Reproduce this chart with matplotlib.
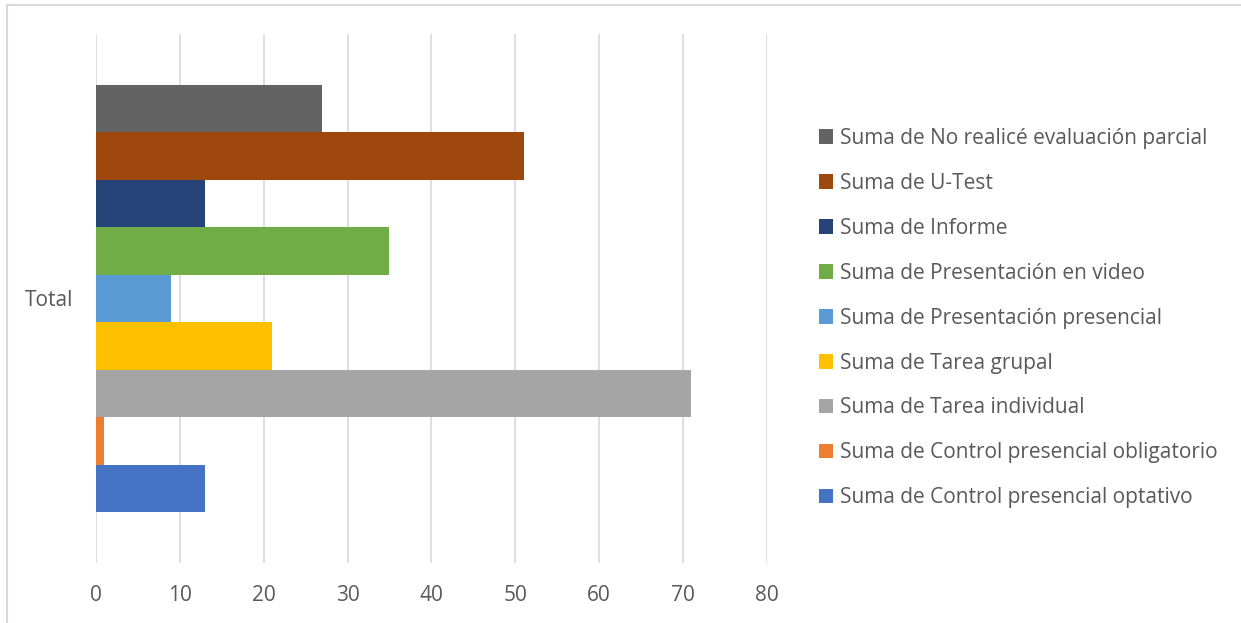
import matplotlib.pyplot as plt
import numpy as np
from matplotlib.lines import Line2D

# series, drawn bottom to top
series = ["Suma de Control presencial optativo",
          "Suma de Control presencial obligatorio",
          "Suma de Tarea individual",
          "Suma de Tarea grupal",
          "Suma de Presentación presencial",
          "Suma de Presentación en video",
          "Suma de Informe",
          "Suma de U-Test",
          "Suma de No realicé evaluación parcial"]
values = [13, 1, 71, 21, 9, 35, 13, 51, 27]
colors = ["#4472c4", "#ed7d31", "#a5a5a5", "#ffc000", "#5b9bd5",
          "#70ad47", "#264478", "#9e480e", "#636363"]
category = "Total"
xticks = [0, 10, 20, 30, 40, 50, 60, 70, 80]

plt.rcParams['font.family'] = ['Open Sans', 'DejaVu Sans']

fig = plt.figure(figsize=(12.41, 6.23), dpi=100)
W, H = 1241, 623
ax = fig.add_axes([96 / W, 1 - 563 / H, (766.7 - 96) / W, (563 - 34) / H])

n = len(values)
h = 1.0
pos = (np.arange(n) - (n - 1) / 2) * h
handles = []
for p, v, c, lab in zip(pos, values, colors, series):
    b = ax.barh(p, v, height=h, color=c, label=lab, zorder=3)
    handles.append(b)

span = (563 - 34) / 47.5
ax.set_ylim(-span / 2, span / 2)
ax.set_xlim(0, 80)
ax.set_xticks(xticks)
ax.set_yticks([0])
ax.set_yticklabels([category])
ax.grid(axis='x', color='#d9d9d9', linewidth=1.2, zorder=0)
for s in ax.spines.values():
    s.set_visible(False)
ax.tick_params(axis='both', length=0, labelsize=15, labelcolor='#595959')
ax.tick_params(axis='x', pad=15.5)
ax.tick_params(axis='y', pad=16.5)

leg = fig.legend(handles[::-1], series[::-1], loc='upper left',
                 bbox_to_anchor=(800 / W, 1 - 109 / H), frameon=False,
                 fontsize=15, labelcolor='#595959', handlelength=0.7,
                 handleheight=0.7, handletextpad=0.3, labelspacing=1.15)

# chart border: only top and left edges show in the crop
fig.lines.append(Line2D([7 / W, 7 / W], [0, 1 - 5 / H], transform=fig.transFigure,
                        color='#d9d9d9', linewidth=1.5))
fig.lines.append(Line2D([7 / W, 1], [1 - 5 / H, 1 - 5 / H], transform=fig.transFigure,
                        color='#d9d9d9', linewidth=1.5))

fig.savefig("out.png", dpi=100)
